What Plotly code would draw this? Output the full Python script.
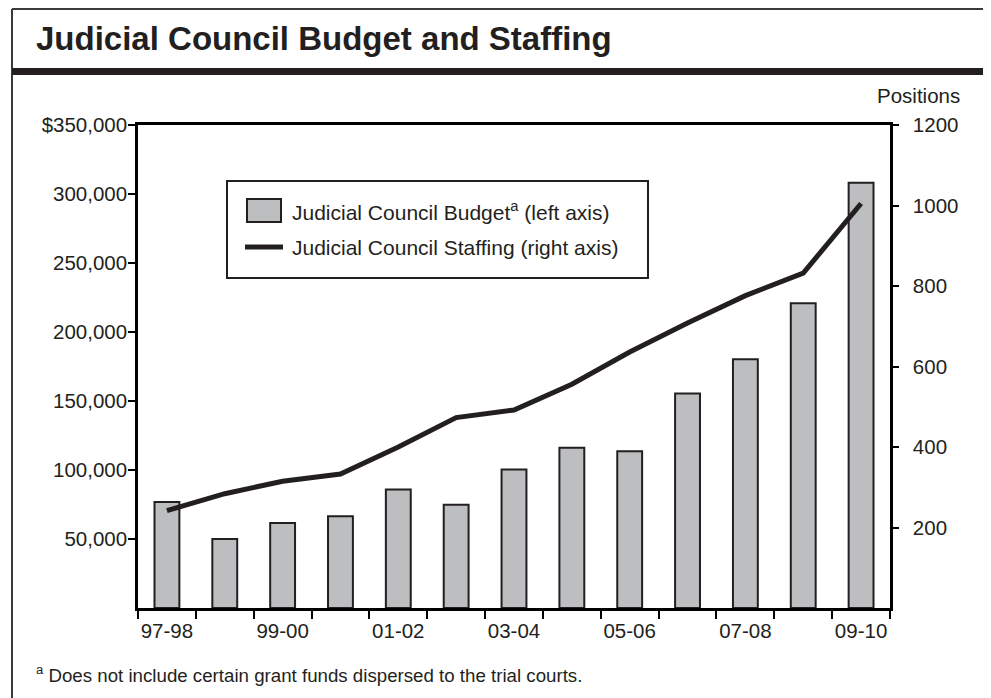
import plotly.graph_objects as go

# ---- data ----
years = ["97-98", "98-99", "99-00", "00-01", "01-02", "02-03", "03-04",
         "04-05", "05-06", "06-07", "07-08", "08-09", "09-10"]
budget = [76800, 50000, 61600, 66400, 85800, 74900, 100300,
          116100, 113600, 155500, 180200, 220900, 308100]
staffing = [242, 284, 315, 333, 400, 473, 492, 556, 636, 708, 776, 832, 1005]
left_ticks = [50000, 100000, 150000, 200000, 250000, 300000, 350000]
left_labels = ["50,000", "100,000", "150,000", "200,000", "250,000", "300,000", "$350,000"]
right_ticks = [200, 400, 600, 800, 1000, 1200]
x_label_years = years[::2]

# ---- geometry (reference pixels; page body adds an 8px offset) ----
OFF = 8
FW, FH = 991 - OFF, 698 - OFF
L, R, T, B = 138 - OFF, 890 - OFF, 125 - OFF, 608 - OFF
PW, PH = R - L, B - T

def px(p):
    return (p - OFF - L) / PW

def py(p):
    return 1 - (p - OFF - T) / PH

INK = "#231f20"
FONT = "Liberation Sans, Arial, Helvetica, sans-serif"

fig = go.Figure()
fig.add_trace(go.Bar(
    x=years, y=budget, name="Judicial Council Budget (left axis)",
    width=0.43, marker=dict(color="#bcbec0", line=dict(color=INK, width=2)),
    showlegend=False, xaxis="x", yaxis="y",
))
fig.add_trace(go.Scatter(
    x=years, y=staffing, name="Judicial Council Staffing (right axis)",
    mode="lines", line=dict(color=INK, width=5), showlegend=False,
    xaxis="x2", yaxis="y2",
))

tickfont = dict(family=FONT, size=20.5, color=INK)
axis_common = dict(showline=True, linecolor="black", linewidth=2.5, ticks="outside",
                   tickcolor="black", tickwidth=2, showgrid=False, zeroline=False,
                   tickfont=tickfont)

fig.update_layout(
    width=FW, height=FH,
    margin=dict(l=L, r=FW - R, t=T, b=FH - B, autoexpand=False),
    paper_bgcolor="white", plot_bgcolor="white",
    xaxis=dict(type="category", categoryorder="array", categoryarray=years,
               range=[-0.5, 12.5], tickson="boundaries", showticklabels=False,
               ticklen=8, mirror=True, **axis_common),
    xaxis2=dict(type="category", categoryorder="array", categoryarray=years,
                range=[-0.5, 12.5], overlaying="x", side="bottom", tickvals=x_label_years,
                ticktext=x_label_years, ticks="", showline=False, showgrid=False,
                zeroline=False, tickangle=0, ticklabelstandoff=8, tickfont=tickfont),
    yaxis=dict(range=[0, 350000], tickvals=left_ticks, ticktext=left_labels,
               ticklen=7, ticklabelstandoff=-3, **axis_common),
    yaxis2=dict(range=[0, 1200], tickvals=right_ticks, overlaying="y", side="right",
                ticklen=6, ticklabelstandoff=10, **axis_common),
)

shapes = [
    # outer frame
    dict(type="line", xref="paper", yref="paper", x0=px(12), x1=px(991), y0=py(9), y1=py(9),
         line=dict(color="#3a3a3a", width=2)),
    dict(type="line", xref="paper", yref="paper", x0=px(12), x1=px(12), y0=py(9), y1=py(698),
         line=dict(color="#3a3a3a", width=2)),
    dict(type="line", xref="paper", yref="paper", x0=px(990), x1=px(990), y0=py(9), y1=py(698),
         line=dict(color="#a0a0a0", width=1)),
    # thick rule under title
    dict(type="rect", xref="paper", yref="paper", x0=px(12), x1=px(991), y0=py(68), y1=py(75),
         fillcolor=INK, line=dict(width=0)),
    # legend box
    dict(type="rect", xref="paper", yref="paper", x0=px(227), x1=px(648), y0=py(181), y1=py(278),
         fillcolor="white", line=dict(color=INK, width=2), layer="above"),
    dict(type="rect", xref="paper", yref="paper", x0=px(247), x1=px(281), y0=py(199), y1=py(222),
         fillcolor="#bcbec0", line=dict(color=INK, width=2), layer="above"),
    dict(type="line", xref="paper", yref="paper", x0=px(245), x1=px(283), y0=py(247), y1=py(247),
         line=dict(color=INK, width=5), layer="above"),
]
fig.update_layout(shapes=shapes)

ann = [
    dict(text="<b>Judicial Council Budget and Staffing</b>", x=px(34), y=py(38),
         xanchor="left", yanchor="middle", font=dict(family=FONT, size=33, color=INK)),
    dict(text="Positions", x=px(919), y=py(95), xanchor="center", yanchor="middle",
         font=dict(family=FONT, size=20.5, color=INK)),
    dict(text="Judicial Council Budget<sup>a</sup> (left axis)", x=px(290), y=py(211),
         xanchor="left", yanchor="middle", font=dict(family=FONT, size=21, color=INK)),
    dict(text="Judicial Council Staffing (right axis)", x=px(290), y=py(247),
         xanchor="left", yanchor="middle", font=dict(family=FONT, size=21, color=INK)),
    dict(text="<sup>a</sup> Does not include certain grant funds dispersed to the trial courts.",
         x=px(34), y=py(674), xanchor="left", yanchor="middle",
         font=dict(family=FONT, size=18.7, color=INK)),
]
for a in ann:
    a.update(xref="paper", yref="paper", showarrow=False)
fig.update_layout(annotations=ann)

fig.write_html("out.html")
